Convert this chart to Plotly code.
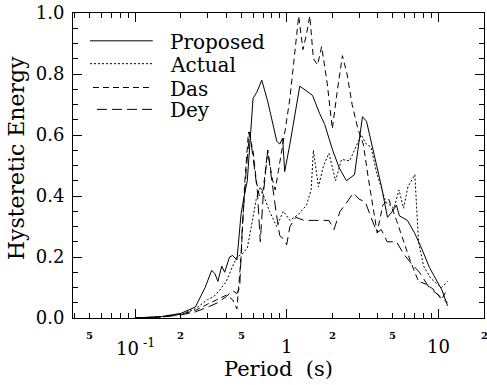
import numpy as np
import plotly.graph_objects as go

# ---------------- data ----------------
period_proposed = [0.1, 0.15, 0.2, 0.25, 0.29, 0.32, 0.336, 0.352, 0.373, 0.39, 0.42, 0.44, 0.47,
                   0.48, 0.5, 0.52, 0.55, 0.6, 0.635, 0.685, 0.75, 0.86, 0.9, 0.94, 0.97, 1.05,
                   1.13, 1.22, 1.48, 1.65, 1.78, 2.01, 2.23, 2.48, 2.8, 3.16, 3.36, 3.68, 4.22,
                   4.62, 4.98, 5.29, 5.54, 6.25, 6.95, 7.73, 8.73, 10.6, 11.5]
energy_proposed = [0.0, 0.005, 0.015, 0.036, 0.10, 0.156, 0.146, 0.12, 0.17, 0.15, 0.20, 0.205, 0.19,
                   0.24, 0.34, 0.39, 0.45, 0.72, 0.74, 0.78, 0.71, 0.58, 0.57, 0.59, 0.48, 0.57,
                   0.67, 0.76, 0.73, 0.67, 0.635, 0.55, 0.49, 0.45, 0.47, 0.66, 0.645, 0.56, 0.43,
                   0.33, 0.35, 0.37, 0.335, 0.32, 0.28, 0.23, 0.166, 0.09, 0.04]

period_actual = [0.1, 0.15, 0.2, 0.25, 0.3, 0.33, 0.36, 0.4, 0.44, 0.47, 0.51, 0.55, 0.6, 0.63,
                 0.67, 0.72, 0.77, 0.86, 0.95, 1.05, 1.2, 1.35, 1.45, 1.5, 1.62, 1.75, 1.9, 2.1,
                 2.3, 2.6, 3.1, 3.35, 3.6, 3.9, 4.5, 5.1, 5.5, 5.9, 6.3, 7.0, 7.4, 8.0, 8.9,
                 10.5, 11.5]
energy_actual = [0.0, 0.003, 0.012, 0.03, 0.06, 0.07, 0.09, 0.12, 0.17, 0.2, 0.21, 0.23, 0.33, 0.39,
                 0.43, 0.39, 0.35, 0.30, 0.35, 0.32, 0.34, 0.37, 0.42, 0.55, 0.43, 0.5, 0.54, 0.45,
                 0.52, 0.515, 0.6, 0.57, 0.56, 0.48, 0.38, 0.36, 0.42, 0.36, 0.43, 0.47, 0.25, 0.17,
                 0.13, 0.10, 0.12]

period_das = [0.1, 0.15, 0.2, 0.25, 0.3, 0.35, 0.4, 0.44, 0.47, 0.5, 0.53, 0.56, 0.6, 0.63, 0.66,
              0.7, 0.75, 0.8, 0.84, 0.88, 0.93, 0.98, 1.05, 1.12, 1.2, 1.28, 1.35, 1.42, 1.5, 1.6,
              1.7, 1.85, 2.0, 2.15, 2.33, 2.5, 2.7, 2.95, 3.2, 3.45, 3.7, 3.95, 4.3, 4.7, 5.3,
              5.9, 6.5, 7.4, 8.4, 9.5, 10.5, 11.3]
energy_das = [0.0, 0.004, 0.012, 0.025, 0.045, 0.06, 0.075, 0.06, 0.03, 0.2, 0.45, 0.61, 0.55, 0.45,
              0.4, 0.42, 0.55, 0.46, 0.42, 0.48, 0.55, 0.62, 0.72, 0.85, 0.99, 0.88, 0.93, 0.99,
              0.85, 0.83, 0.89, 0.77, 0.62, 0.74, 0.86, 0.8, 0.7, 0.62, 0.57, 0.46, 0.36, 0.28,
              0.37, 0.39, 0.32, 0.25, 0.19, 0.12, 0.11, 0.09, 0.06, 0.09]

period_dey = [0.1, 0.15, 0.2, 0.25, 0.3, 0.35, 0.4, 0.44, 0.47, 0.49, 0.51, 0.54, 0.57, 0.6, 0.64,
              0.67, 0.7, 0.75, 0.8, 0.85, 0.9, 0.95, 1.0, 1.05, 1.15, 1.3, 1.5, 1.7, 1.9, 2.05,
              2.25, 2.5, 2.75, 3.0, 3.3, 3.6, 3.95, 4.2, 4.6, 5.3, 5.9, 6.6, 7.5, 8.7, 9.7, 10.8,
              11.5]
energy_dey = [0.0, 0.003, 0.01, 0.02, 0.035, 0.05, 0.07, 0.09, 0.08, 0.1, 0.3, 0.48, 0.61, 0.52, 0.42,
              0.25, 0.4, 0.55, 0.44, 0.35, 0.27, 0.26, 0.24, 0.3, 0.33, 0.32, 0.32, 0.32, 0.32, 0.29,
              0.35, 0.38, 0.41, 0.39, 0.38, 0.33, 0.28, 0.29, 0.25, 0.25, 0.21, 0.18, 0.15, 0.10,
              0.08, 0.06, 0.05]

series_names = ["Proposed", "Actual", "Das", "Dey"]
series_dash = ["solid", "2px,2px", "6px,4px", "10px,5px"]

x_major_vals = [0.1, 1, 10]
x_major_text = ["10<sup> -1</sup>", "1", "10"]
x_minor_label_vals = [0.05, 0.2, 0.5, 2, 5, 20]
x_minor_label_text = ["5", "2", "5", "2", "5", "2"]
x_minor_tick_vals = [0.04, 0.05, 0.06, 0.07, 0.08, 0.09, 0.2, 0.3, 0.4, 0.5, 0.6, 0.7, 0.8, 0.9,
                     2, 3, 4, 5, 6, 7, 8, 9]
y_major_vals = [0.0, 0.2, 0.4, 0.6, 0.8, 1.0]
y_minor_vals = [0.05, 0.1, 0.15, 0.25, 0.3, 0.35, 0.45, 0.5, 0.55, 0.65, 0.7, 0.75, 0.85, 0.9, 0.95]

# ---------------- figure ----------------
W, H = 487, 385
ML, MR, MT, MB = 73, 2, 11, 67
PW, PH = W - ML - MR, H - MT - MB

def px_x(p):
    return (p - ML) / PW

def px_y(p):
    return (MT + PH - p) / PH

serif = "DejaVu Serif"

fig = go.Figure()
all_series = [(period_proposed, energy_proposed), (period_actual, energy_actual),
              (period_das, energy_das), (period_dey, energy_dey)]
for (xs, ys), name, dash in zip(all_series, series_names, series_dash):
    fig.add_trace(go.Scatter(x=xs, y=ys, mode="lines", name=name, showlegend=False,
                             line=dict(color="black", width=1, dash=dash)))

annotations = []
shapes = []
# legend
leg_y = [39, 62, 86, 108]
leg_x0 = [90, 90, 93, 97]
for name, dash, yy, x0 in zip(series_names, series_dash, leg_y, leg_x0):
    shapes.append(dict(type="line", xref="paper", yref="paper",
                       x0=px_x(x0), x1=px_x(153), y0=px_y(yy), y1=px_y(yy),
                       line=dict(color="black", width=1, dash=dash)))
    annotations.append(dict(text=name, xref="paper", yref="paper", x=px_x(168), y=px_y(yy + 1),
                            xanchor="left", yanchor="middle", showarrow=False,
                            font=dict(family=serif, size=20, color="black")))

# x tick labels
for v, t in zip(x_minor_label_vals, x_minor_label_text):
    annotations.append(dict(text="<b>%s</b>" % t, xref="x", yref="paper", x=np.log10(v),
                            y=px_y(336), xanchor="center", yanchor="middle", showarrow=False,
                            font=dict(family=serif, size=10, color="black")))
for v, t in zip(x_major_vals, x_major_text):
    annotations.append(dict(text=t, xref="x", yref="paper", x=np.log10(v),
                            y=px_y(347), xanchor="center", yanchor="middle", showarrow=False,
                            font=dict(family=serif, size=18, color="black")))

annotations.append(dict(text="Period  (s)", xref="paper", yref="paper", x=px_x(279),
                        y=px_y(369), xanchor="center", yanchor="middle", showarrow=False,
                        font=dict(family=serif, size=21, color="black")))
annotations.append(dict(text="Hysteretic Energy", xref="paper", yref="paper", x=px_x(16),
                        y=px_y(157), xanchor="center", yanchor="middle", showarrow=False,
                        textangle=-90, font=dict(family=serif, size=22, color="black")))

fig.update_layout(
    width=W, height=H,
    margin=dict(l=ML, r=MR, t=MT, b=MB, pad=0),
    paper_bgcolor="white", plot_bgcolor="white",
    showlegend=False,
    annotations=annotations, shapes=shapes,
    xaxis=dict(type="log", range=[np.log10(0.039), np.log10(20)],
               showline=True, linecolor="black", linewidth=1, mirror="ticks",
               showgrid=False, zeroline=False, showticklabels=False,
               ticks="inside", tickvals=x_major_vals, ticklen=9, tickwidth=1, tickcolor="black",
               minor=dict(tickvals=x_minor_tick_vals, ticks="inside", ticklen=5, tickwidth=1,
                          tickcolor="black", showgrid=False)),
    yaxis=dict(range=[0, 1], showline=True, linecolor="black", linewidth=1, mirror="ticks",
               showgrid=False, zeroline=False,
               ticks="inside", tickvals=y_major_vals, ticktext=["%.1f" % v for v in y_major_vals],
               ticklen=9, tickwidth=1, tickcolor="black",
               tickfont=dict(family=serif, size=18, color="black"), ticklabelstandoff=4,
               minor=dict(tickvals=y_minor_vals, ticks="inside", ticklen=5, tickwidth=1,
                          tickcolor="black", showgrid=False)),
)

fig.write_html("out.html")
